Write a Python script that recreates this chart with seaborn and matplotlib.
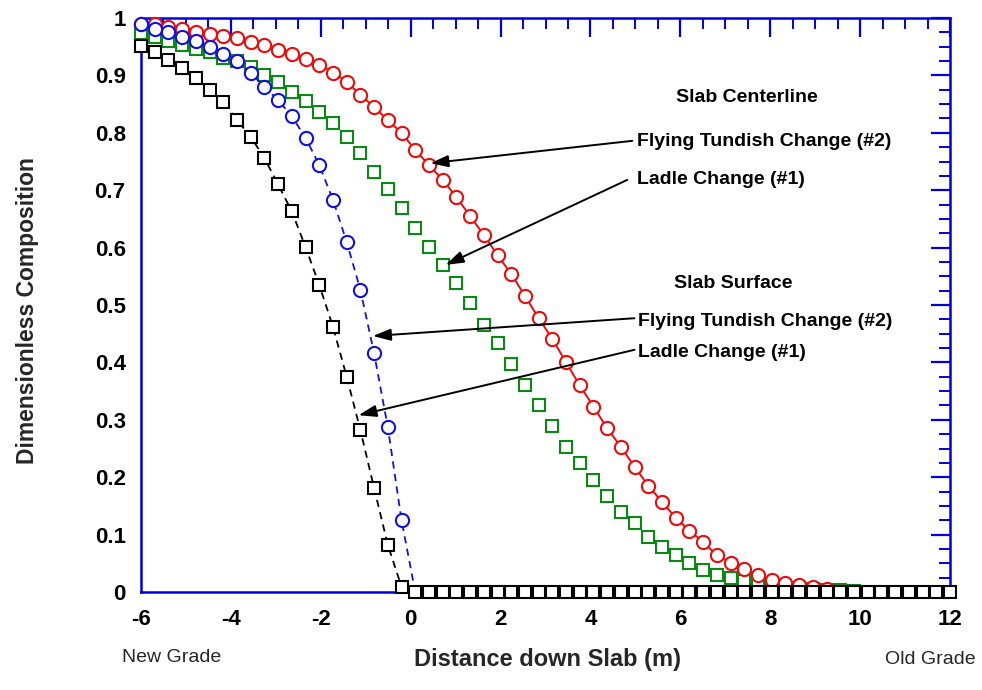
import numpy as np
import matplotlib
matplotlib.use("Agg")
import matplotlib.pyplot as plt
from matplotlib.ticker import MultipleLocator, FixedLocator, FuncFormatter
import seaborn as sns

# Sample positions along the slab (m), one per foot from -6 m to 12 m
distance = np.linspace(-6.0, 12.0, 60)

# Slab centerline, flying tundish change (#2)
center_flying = [0.990, 0.990, 0.985, 0.981, 0.976, 0.972, 0.969, 0.966, 0.959, 0.953,
                 0.945, 0.938, 0.928, 0.919, 0.905, 0.889, 0.866, 0.845, 0.822, 0.800,
                 0.770, 0.744, 0.718, 0.688, 0.655, 0.622, 0.587, 0.554, 0.516, 0.477,
                 0.441, 0.400, 0.360, 0.323, 0.285, 0.253, 0.218, 0.185, 0.157, 0.129,
                 0.107, 0.087, 0.064, 0.051, 0.040, 0.030, 0.021, 0.016, 0.012, 0.009,
                 0.006]

# Slab centerline, ladle change (#1)
center_ladle = [0.974, 0.967, 0.960, 0.953, 0.946, 0.941, 0.931, 0.925, 0.914, 0.900,
                0.888, 0.871, 0.855, 0.837, 0.817, 0.792, 0.764, 0.732, 0.702, 0.669,
                0.634, 0.601, 0.570, 0.538, 0.503, 0.465, 0.434, 0.397, 0.360, 0.326,
                0.290, 0.253, 0.225, 0.195, 0.167, 0.139, 0.120, 0.096, 0.078, 0.064,
                0.050, 0.038, 0.030, 0.024, 0.019, 0.016, 0.012, 0.009, 0.007, 0.005,
                0.004, 0.003, 0.002]

# Slab surface, flying tundish change (#2)
surface_flying = [0.990, 0.981, 0.975, 0.967, 0.960, 0.950, 0.938, 0.925, 0.905, 0.880,
                  0.857, 0.829, 0.791, 0.744, 0.683, 0.610, 0.526, 0.416, 0.287, 0.125,
                  0.000]

# Slab surface, ladle change (#1)
surface_ladle = [0.951, 0.941, 0.927, 0.913, 0.895, 0.875, 0.854, 0.822, 0.793, 0.756,
                 0.710, 0.663, 0.601, 0.535, 0.462, 0.375, 0.282, 0.181, 0.082, 0.009] + [0.0] * 40

x_ticks = [-6, -4, -2, 0, 2, 4, 6, 8, 10, 12]
y_ticks = [0, 0.1, 0.2, 0.3, 0.4, 0.5, 0.6, 0.7, 0.8, 0.9, 1]

RED, GREEN, BLUE = "#ee0a0a", "#0a8a14", "#1010e6"
AXIS_BLUE = "#0000dd"

sns.set_theme(style="white")
plt.rcParams["font.family"] = ["Liberation Sans", "DejaVu Sans"]
plt.rcParams["axes.unicode_minus"] = False

fig = plt.figure(figsize=(9.82, 6.90), dpi=100)
ax = fig.add_axes([0.1436, 0.142, 0.8238, 0.8319])

common = dict(ax=ax, sort=False, estimator=None, clip_on=False, legend=False)

sns.lineplot(x=distance[:len(center_flying)], y=center_flying, color=RED,
             linestyle="-", linewidth=1.4, marker="o", markersize=9.5,
             markerfacecolor="white", markeredgecolor=RED, markeredgewidth=1.5,
             zorder=4, **common)
sns.lineplot(x=distance[:len(center_ladle)], y=center_ladle, color=GREEN,
             linestyle="None", marker="s", markersize=8.8,
             markerfacecolor="white", markeredgecolor=GREEN, markeredgewidth=1.5,
             zorder=3, **common)
sns.lineplot(x=distance[:len(surface_flying)], y=surface_flying, color=BLUE,
             linestyle=(0, (4, 3)), linewidth=1.3, marker="o", markersize=9.5,
             markerfacecolor="white", markeredgecolor=BLUE, markeredgewidth=1.5,
             markevery=list(range(len(surface_flying) - 1)),
             zorder=5, **common)
sns.lineplot(x=distance[:len(surface_ladle)], y=surface_ladle, color="black",
             linestyle=(0, (4, 3)), linewidth=1.3, marker="s", markersize=8.8,
             markerfacecolor="white", markeredgecolor="black", markeredgewidth=1.5,
             zorder=6, **common)

ax.set_xlim(-6, 12)
ax.set_ylim(0, 1)
ax.xaxis.set_major_locator(FixedLocator(x_ticks))
ax.xaxis.set_minor_locator(MultipleLocator(0.5))
ax.yaxis.set_major_locator(FixedLocator(y_ticks))
ax.yaxis.set_minor_locator(MultipleLocator(0.025))
ax.xaxis.set_major_formatter(FuncFormatter(lambda v, p: f"{v:g}"))
ax.yaxis.set_major_formatter(FuncFormatter(lambda v, p: f"{v:g}"))

for s in ax.spines.values():
    s.set_color(AXIS_BLUE)
    s.set_linewidth(1.8)
    s.set_visible(True)

ax.tick_params(which="both", direction="in", top=True, right=True,
               color=AXIS_BLUE, labelcolor="black")
ax.tick_params(which="major", length=14, width=1.6)
ax.tick_params(which="minor", length=8, width=1.4)
ax.tick_params(axis="x", which="major", pad=12, labelsize=16)
ax.tick_params(axis="y", which="major", pad=11, labelsize=16)
for lab in ax.get_xticklabels() + ax.get_yticklabels():
    lab.set_fontweight("bold")

ax.set_xlabel("Distance down Slab (m)", fontsize=17, fontweight="bold")
ax.xaxis.set_label_coords(0.503, -0.098)
ax.set_ylabel("Dimensionless Composition", fontsize=16.5, fontweight="bold")
ax.yaxis.set_label_coords(-0.126, 0.491)

fig.text(172 / 982, 1 - 657 / 690, "New Grade", ha="center", va="center", fontsize=14)
fig.text(930 / 982, 1 - 659 / 690, "Old Grade", ha="center", va="center", fontsize=14)

# Annotation labels
txt = dict(fontsize=14, fontweight="bold", color="black", va="center")
ax.text(7.49, 0.861, "Slab Centerline", ha="center", **txt)
ax.text(5.04, 0.785, "Flying Tundish Change (#2)", ha="left", **txt)
ax.text(5.04, 0.719, "Ladle Change (#1)", ha="left", **txt)
ax.text(7.18, 0.537, "Slab Surface", ha="center", **txt)
ax.text(5.06, 0.472, "Flying Tundish Change (#2)", ha="left", **txt)
ax.text(5.06, 0.418, "Ladle Change (#1)", ha="left", **txt)

arrow = dict(arrowstyle="-|>,head_length=0.9,head_width=0.3", color="black",
             lw=1.4, shrinkA=0, shrinkB=0)
ax.annotate("", xy=(0.44, 0.747), xytext=(4.93, 0.786), arrowprops=arrow, zorder=7)
ax.annotate("", xy=(0.78, 0.570), xytext=(4.82, 0.718), arrowprops=arrow, zorder=7)
ax.annotate("", xy=(-0.84, 0.446), xytext=(4.98, 0.477), arrowprops=arrow, zorder=7)
ax.annotate("", xy=(-1.16, 0.308), xytext=(4.98, 0.422), arrowprops=arrow, zorder=7)

fig.savefig("out.png", dpi=100)
